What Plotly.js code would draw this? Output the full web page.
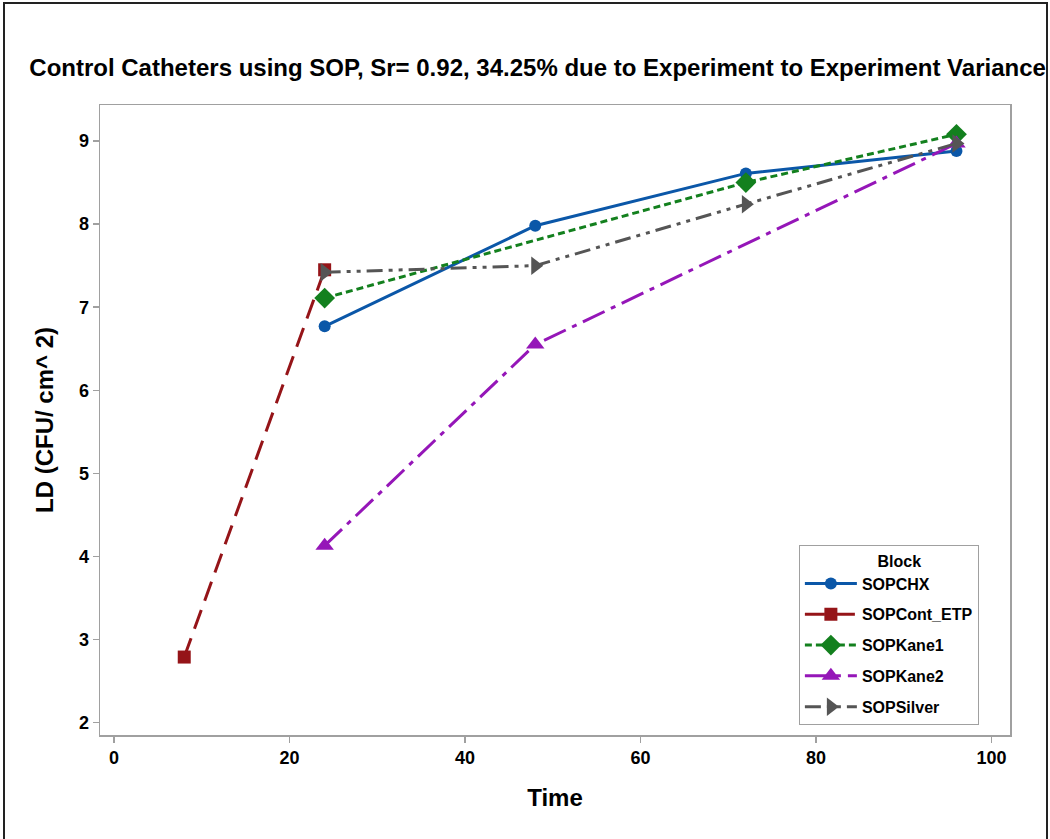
<!DOCTYPE html>
<html>
<head>
<meta charset="utf-8">
<script src="https://cdn.plot.ly/plotly-3.0.1.min.js"></script>
<style>
html,body{margin:0;padding:0;background:#fff;overflow:hidden;}
#frame{position:absolute;left:3px;top:2px;width:1045px;height:850px;border:2px solid #222;box-sizing:border-box;pointer-events:none;z-index:5;}
#chart{position:absolute;left:0;top:0;width:1050px;height:839px;}
</style>
</head>
<body>
<div id="chart"></div>
<div id="frame"></div>
<script>
// Data
const seriesNames = ["SOPCHX", "SOPCont_ETP", "SOPKane1", "SOPKane2", "SOPSilver"];
const chxTime = [24, 48, 72, 96];
const chxLD = [6.77, 7.98, 8.61, 8.88];
const contTime = [8, 24];
const contLD = [2.79, 7.45];
const kane1Time = [24, 72, 96];
const kane1LD = [7.11, 8.50, 9.08];
const kane2Time = [24, 48, 96];
const kane2LD = [4.13, 6.55, 8.97];
const silverTime = [24, 48, 72, 96];
const silverLD = [7.42, 7.50, 8.24, 8.97];
const xTicks = [0, 20, 40, 60, 80, 100];
const yTicks = [2, 3, 4, 5, 6, 7, 8, 9];

const FONT = '"Liberation Sans", Arial, sans-serif';

const traces = [
  {x: chxTime, y: chxLD, name: seriesNames[0], legendgroup: 'g1', mode: 'lines+markers',
   line: {color: '#0b57a8', width: 3, dash: 'solid'},
   marker: {symbol: 'circle', size: 12, color: '#0b57a8'}},
  {x: contTime, y: contLD, name: seriesNames[1], legendgroup: 'g2', mode: 'lines+markers',
   line: {color: '#951418', width: 3, dash: '20px,10px'},
   marker: {symbol: 'square', size: 13, color: '#951418'}},
  {x: kane1Time, y: kane1LD, name: seriesNames[2], legendgroup: 'g3', mode: 'lines+markers',
   line: {color: '#13801e', width: 3, dash: '7px,4px'},
   marker: {symbol: 'diamond', size: 16, color: '#13801e'}},
  {x: kane2Time, y: kane2LD, name: seriesNames[3], legendgroup: 'g4', mode: 'lines+markers',
   line: {color: '#9516b8', width: 3, dash: '24px,7px,5px,7px'},
   marker: {symbol: 'triangle-up', size: 16, color: '#9516b8'}},
  {x: silverTime, y: silverLD, name: seriesNames[4], legendgroup: 'g5', mode: 'lines+markers',
   line: {color: '#555555', width: 3, dash: '16px,6px,4px,6px,4px,6px'},
   marker: {symbol: 'triangle-right', size: 16, color: '#555555'}}
];

const layout = {
  width: 1050, height: 839,
  paper_bgcolor: '#fff', plot_bgcolor: '#fff',
  margin: {l: 100, r: 40, t: 105, b: 104},
  font: {family: FONT, color: '#000'},
  title: {text: '<b>Control Catheters using SOP, Sr= 0.92, 34.25% due to Experiment to Experiment Variance</b>',
          font: {family: FONT, size: 24, color: '#000'}, x: 0.512, xanchor: 'center', y: 0.919, yanchor: 'middle'},
  xaxis: {
    range: [-1.6, 102.1], tickvals: xTicks, ticktext: xTicks.map(String),
    showgrid: false, zeroline: false, showline: true, mirror: true, linecolor: '#a0a0a0', linewidth: 1.5,
    ticks: 'outside', ticklen: 6, tickcolor: '#a0a0a0', tickwidth: 1.5,
    tickfont: {family: FONT, size: 18, color: '#000', weight: 'bold'},
    title: {text: '<b>Time</b>', font: {family: FONT, size: 24, color: '#000'}, standoff: 22}
  },
  yaxis: {
    range: [1.852, 9.433], tickvals: yTicks, ticktext: yTicks.map(String),
    showgrid: false, zeroline: false, showline: true, mirror: true, linecolor: '#a0a0a0', linewidth: 1.5,
    ticks: 'outside', ticklen: 6, tickcolor: '#a0a0a0', tickwidth: 1.5,
    tickfont: {family: FONT, size: 18, color: '#000', weight: 'bold'},
    title: {text: '<b>LD (CFU/ cm^ 2)</b>', font: {family: FONT, size: 24, color: '#000'}, standoff: 18}
  },
  legend: {
    x: 0.768, y: 0.302, xanchor: 'left', yanchor: 'top',
    bgcolor: '#fff', bordercolor: '#a0a0a0', borderwidth: 1,
    font: {family: FONT, size: 16, color: '#000', weight: 'bold'},
    itemwidth: 52, tracegroupgap: 7,
    title: {text: '\u00a0\u00a0\u00a0\u00a0\u00a0\u00a0\u00a0\u00a0\u00a0\u00a0\u00a0\u00a0\u00a0\u00a0\u00a0\u00a0\u00a0<b>Block</b>', font: {family: FONT, size: 16, color: '#000'}}
  },
  showlegend: true
};

Plotly.newPlot('chart', traces, layout, {displayModeBar: false, staticPlot: true});
</script>
</body>
</html>
